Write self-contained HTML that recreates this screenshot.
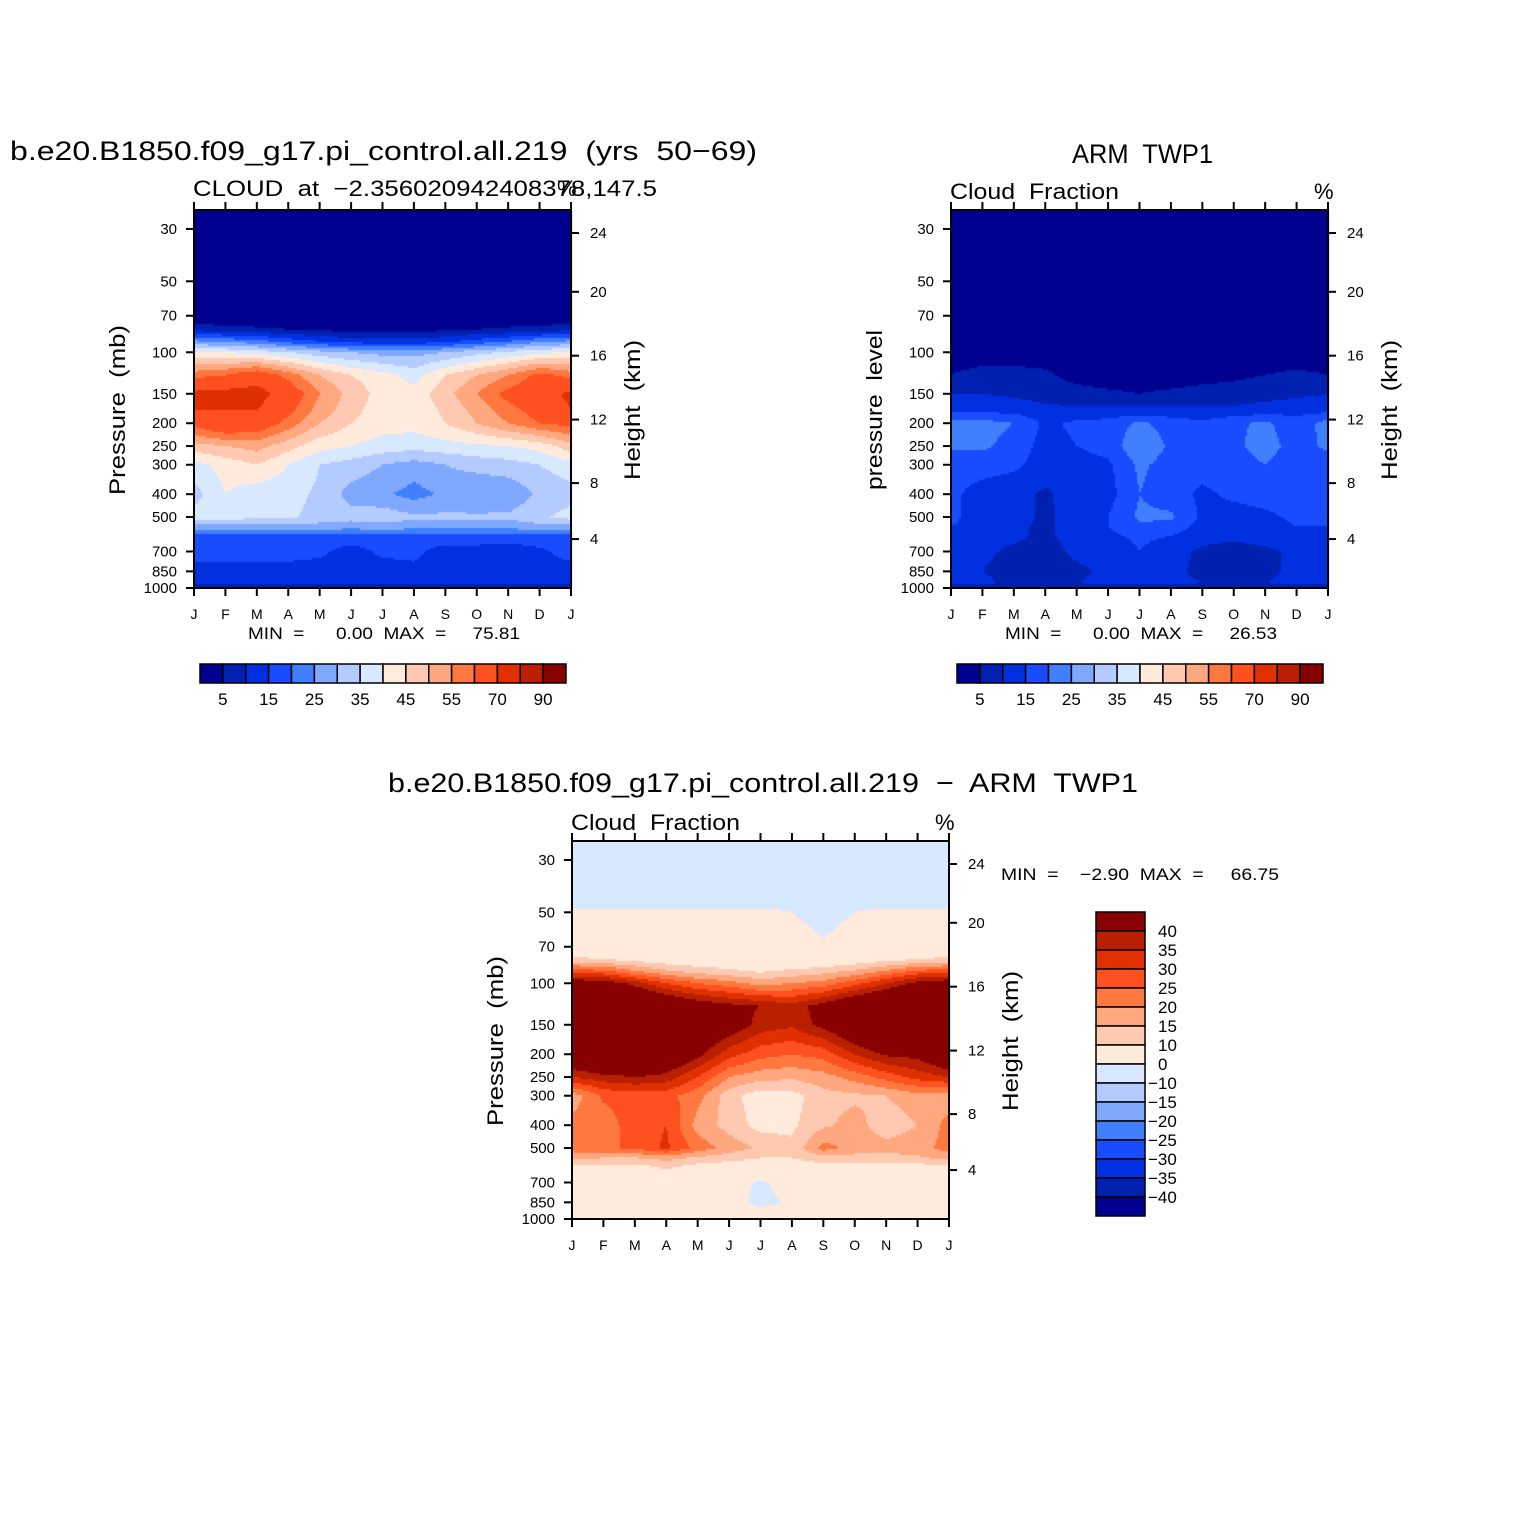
<!DOCTYPE html>
<html><head><meta charset="utf-8"><style>
html,body{margin:0;padding:0;background:#fff;width:1524px;height:1524px;overflow:hidden}
#wrap{position:relative;width:1524px;height:1524px}
canvas,svg{position:absolute;left:0;top:0}
text{font-family:"Liberation Sans",sans-serif;fill:#000;white-space:pre}
</style></head><body>
<div id="wrap">
<canvas id="cv" width="1524" height="1524"></canvas>
<svg id="sv" width="1524" height="1524"></svg>
</div>
<script>
// ---- data ----
const months = ["J","F","M","A","M","J","J","A","S","O","N","D","J"];
const pressureLevels = [25,46,50,70,80,90,100,125,150,175,200,250,300,400,500,550,600,700,850,950,1000];
const pTicks = [30,50,70,100,150,200,250,300,400,500,700,850,1000];
const hTicks = [24,20,16,12,8,4];
const hTickPressure = [31.2,55.4,103.4,193,359,620]; // pressure (mb) at each height tick
const levels1 = [5,10,15,20,25,30,35,40,45,50,55,60,70,80,90];
const levels1Labels = ["5","15","25","35","45","55","70","90"];
const levels3 = [-40,-35,-30,-25,-20,-15,-10,0,10,15,20,25,30,35,40];
const levels3Labels = ["40","35","30","25","20","15","10","0","\u221210","\u221215","\u221220","\u221225","\u221230","\u221235","\u221240"];
const palette = ["#000090","#0020b0","#0030e0","#1a4cff","#4080ff","#80a8ff","#b4cbff","#d8e8ff","#ffeadb","#ffc8b0","#ffa880","#ff7840","#ff5020","#e03000","#b82000","#880000"];
// model cloud (rows = pressureLevels, cols = months J..D,J)
const model = [
[0,0,0,0,0,0,0,0,0,0,0,0,0],
[0,0,0,0,0,0,0,0,0,0,0,0,0],
[0,0,0,0,0,0,0,0,0,0,0,0,0],
[0,0,0,0,0,0,0,0,0,0,0,0,0],
[8,7,6,5,4,3,3,3,4,5,6,7,8],
[26,24,22,18,15,13,12,12,14,17,20,24,26],
[40,40,38,35,32,30,28,28,30,33,36,39,40],
[58,60,65,58,50,45,42,38,45,50,55,62,58],
[72,73,74,65,55,48,43,42,48,55,62,66,72],
[70,70,70,62,53,47,42,42,46,52,58,63,70],
[62,68,65,58,50,45,42,42,45,50,55,60,62],
[48,50,52,47,42,40,38,37,38,39,40,42,48],
[38,42,45,40,35,33,30,28,30,32,33,35,38],
[33,40,37,37,34,28,26,23,26,25,26,31,33],
[37,38,36,36,33,32,33,31,31,31,31,34,37],
[28,28,28,28,28,27,28,27,27,27,27,28,28],
[19,19,18,18,18,18,18,18,18,18,18,18,19],
[17,17,17,17,16,13,16,16,13,13,12,14,17],
[13,13,13,13,13,14,13,14,13,13,12,13,13],
[11,11,11,11,11,11,11,11,11,11,11,11,11],
[4,4,4,4,4,4,4,4,4,4,4,4,4]];
// ARM TWP1 observed cloud fraction
const obs = [
[0,0,0,0,0,0,0,0,0,0,0,0,0],
[0,0,0,0,0,0,0,0,0,0,0,0,0],
[0,0,0,0,0,0,0,0,0,0,0,0,0],
[0,0,0,0,0,0,0,0,0,0,0,0,0],
[0,0,0,0,0,0,0,0,0,0,0,0,0],
[1,1,1,1,1,1,1,1,1,1,1,1,1],
[2,2,2,2,2,2,2,2,2,2,2,2,2],
[5,7,7,6,3,2,2,2,3,4,5,6,5],
[10,10,9,8,7,6,5,6,7,7,8,9,10],
[13,13,13,11,11,11,11,11,11,11,12,13,13],
[22,22,20,14,16,17,21,18,16,19,21,17,22],
[21,21,18,13,15,17,24,19,17,19,22,18,21],
[17,17,16,13,13,14,21,18,17,18,20,17,17],
[16,13,12,9,13,13,20,17,14,16,17,17,16],
[16,13,12,9,12,15,21,21,14,13,14,16,16],
[15,13,11,9,12,15,19,18,13,12,13,15,15],
[14,12,11,9,12,14,16,15,12,11,12,14,14],
[12,11,9,8,11,12,15,12,9,8,9,11,12],
[12,10,8,8,9,11,14,11,9,8,9,11,12],
[11,11,9,9,10,11,13,11,10,10,10,11,11],
[6,6,6,6,6,6,6,6,6,6,6,6,6]];
// difference model - obs
const diff = [
[-1,-1,-1,-1,-1,-1,-1,-1,-1,-1,-1,-1,-1],
[-1,-1,-1,-1,-1,-1,-1,-1,-1,-1,-1,-1,-1],
[1,1,1,1,1,1,1,0,-1.5,0,1,1,1],
[3,3,3,3,3,3,3,2,0.5,2,3,3,3],
[12,11,9,7,6,5,4,4,5,7,9,11,12],
[30,28,22,17,14,12,10,12,14,17,22,28,30],
[45,44,38,30,25,22,18,20,22,28,35,42,45],
[60,60,55,50,45,42,40,37,43,50,55,58,60],
[62,64,64,58,50,45,38,36,42,48,55,60,62],
[56,60,60,55,46,38,32,30,34,42,48,52,56],
[50,55,55,50,42,32,27,25,27,35,41,42,50],
[35,38,40,38,30,20,17,16,18,22,27,32,35],
[17,26,27,27,22,12,7,8,13,14,15,18,17],
[22,22,28,30,18,13,8,9,14,17,12,15,22],
[22,24,26,31,23,18,14,11,22,18,17,18,22],
[17,15,15,17,14,12,10,10,13,13,13,14,17],
[8,8,8,11,8,7,7,7,8,8,8,8,8],
[4,4,4,5,4,3,-1,3,4,4,4,4,4],
[4,4,4,4,4,3,-2,1,4,4,4,4,4],
[3,3,3,3,3,3,3,3,3,3,3,3,3],
[-1,1,1,1,1,1,1,1,1,1,1,1,-1]];

// ---- geometry ----
const panels = [
 {x0:194,x1:571,y0:210,y1:588,data:model,levels:levels1,name:"model"},
 {x0:951,x1:1328,y0:210,y1:588,data:obs,levels:levels1,name:"obs"},
 {x0:572,x1:949,y0:841,y1:1219,data:diff,levels:levels3,name:"diff"}];
const LP0=Math.log10(30), LP1=Math.log10(1000);
function yOf(P,p){const y30=P.y1-359; return y30+(Math.log10(p)-LP0)/(LP1-LP0)*359;}
function xOf(P,m){return P.x0+m*(P.x1-P.x0)/12;}
const LL=pressureLevels.map(Math.log10);
function valueAt(P,mf,lp){
  const d=P.data;
  let i=0; while(i<LL.length-2 && lp>LL[i+1]) i++;
  let t=(lp-LL[i])/(LL[i+1]-LL[i]); t=Math.max(0,Math.min(1,t));
  let j=Math.min(11,Math.floor(mf)); let s=mf-j;
  const a=d[i][j]*(1-s)+d[i][j+1]*s, b=d[i+1][j]*(1-s)+d[i+1][j+1]*s;
  return a*(1-t)+b*t;
}
function binOf(levels,v){let k=0; while(k<levels.length && v>=levels[k]) k++; return k;}
const ctx=document.getElementById('cv').getContext('2d');
panels.forEach(P=>{
  const step=2;
  for(let y=P.y0;y<P.y1;y+=step){
    const y30=P.y1-359;
    const lp=LP0+(y+step/2-y30)/359*(LP1-LP0);
    for(let x=P.x0;x<P.x1;x+=step){
      const mf=(x+step/2-P.x0)/(P.x1-P.x0)*12;
      ctx.fillStyle=palette[binOf(P.levels,valueAt(P,mf,lp))];
      ctx.fillRect(x,y,step,step);
    }
  }
});
// ---- svg annotations ----
const sv=document.getElementById('sv'), NS="http://www.w3.org/2000/svg";
function el(tag,attrs,txt){const e=document.createElementNS(NS,tag);for(const k in attrs)e.setAttribute(k,attrs[k]);if(txt!=null)e.textContent=txt;sv.appendChild(e);return e;}
panels.forEach((P,pi)=>{
  const f=el('rect',{x:P.x0,y:P.y0,width:P.x1-P.x0,height:P.y1-P.y0,fill:'none',stroke:'#000','stroke-width':2});
  
  
  months.forEach((m,i)=>{
    const x=xOf(P,i);
    el('line',{x1:x,x2:x,y1:P.y0,y2:P.y0-8,stroke:'#000','stroke-width':2});
    el('line',{x1:x,x2:x,y1:P.y1,y2:P.y1+8,stroke:'#000','stroke-width':2});
    const t=el('text',{x:x,y:P.y1+31,'font-size':14,'text-anchor':'middle'},m);
    
    
  });
  pTicks.forEach(p=>{
    const y=yOf(P,p);
    el('line',{x1:P.x0,x2:P.x0-8,y1:y,y2:y,stroke:'#000','stroke-width':2});
    const t=el('text',{x:P.x0-17,y:y+5,'font-size':15,'text-anchor':'end'},String(p));
    
    
  });
  hTicks.forEach((h,i)=>{
    const y=yOf(P,hTickPressure[i]);
    el('line',{x1:P.x1,x2:P.x1+8,y1:y,y2:y,stroke:'#000','stroke-width':2});
    const t=el('text',{x:P.x1+19,y:y+5,'font-size':15},String(h));
    
    
  });
  const cy=(P.y0+P.y1)/2;
  const lt=el('text',{x:0,y:0,'font-size':22,'text-anchor':'middle',textLength:pi==1?160:170,lengthAdjust:'spacingAndGlyphs',transform:`translate(${P.x0-69},${cy+11}) rotate(-90)`},pi==1?"pressure  level":"Pressure  (mb)");
  
  
  const rt=el('text',{x:0,y:0,'font-size':22,'text-anchor':'middle',textLength:140,lengthAdjust:'spacingAndGlyphs',transform:`translate(${P.x1+69},${cy+11}) rotate(-90)`},"Height  (km)");
  
  
});
function txt(x,y,s,size,name,len){const a={x:x,y:y,'font-size':size};
  if(len){a.textLength=len;a.lengthAdjust='spacingAndGlyphs';}
  const t=el('text',a,s);
  
  
  return t;}
txt(10,160,"b.e20.B1850.f09_g17.pi_control.all.219  (yrs  50\u221269)",27,"model-title",747);
txt(193,196,"CLOUD  at  \u22122.356020942408378,147.5",22,"model-subtitle",464);
txt(557,196,"%",22,"model-units");
txt(1072,163,"ARM  TWP1",27,"obs-title",141);
txt(950,199,"Cloud  Fraction",22,"obs-subtitle",169);
txt(1314,199,"%",22,"obs-units");
txt(388,792,"b.e20.B1850.f09_g17.pi_control.all.219  \u2212  ARM  TWP1",27,"diff-title",750);
txt(571,830,"Cloud  Fraction",22,"diff-subtitle",169);
txt(935,830,"%",22,"diff-units");
txt(248,639,"MIN  =      0.00  MAX  =     75.81",17,"model-min-max",272);
txt(1005,639,"MIN  =      0.00  MAX  =     26.53",17,"obs-min-max",272);
txt(1001,880,"MIN  =    \u22122.90  MAX  =     66.75",17,"diff-min-max",278);
// horizontal colorbars
[200,957].forEach((cx,ci)=>{
  const w=366/16;
  palette.forEach((c,i)=>{
    const r=el('rect',{x:cx+i*w,y:664,width:w,height:19,fill:c,stroke:'#000','stroke-width':1.5});
    
    
  });
  levels1Labels.forEach((s,i)=>{
    const t=el('text',{x:cx+(2*i+1)*w,y:705,'font-size':17,'text-anchor':'middle'},s);
    
    
  });
});
// vertical colorbar
const vh=304/16;
palette.slice().reverse().forEach((c,i)=>{
  const r=el('rect',{x:1096,y:912+i*vh,width:49,height:vh,fill:c,stroke:'#000','stroke-width':1.5});
  
  
});
levels3Labels.forEach((s,i)=>{
  txt(s.startsWith("\u2212")?1148:1158,912+(i+1)*vh+6,s,17,"diff-colorbar-label");
});
</script>
</body></html>
